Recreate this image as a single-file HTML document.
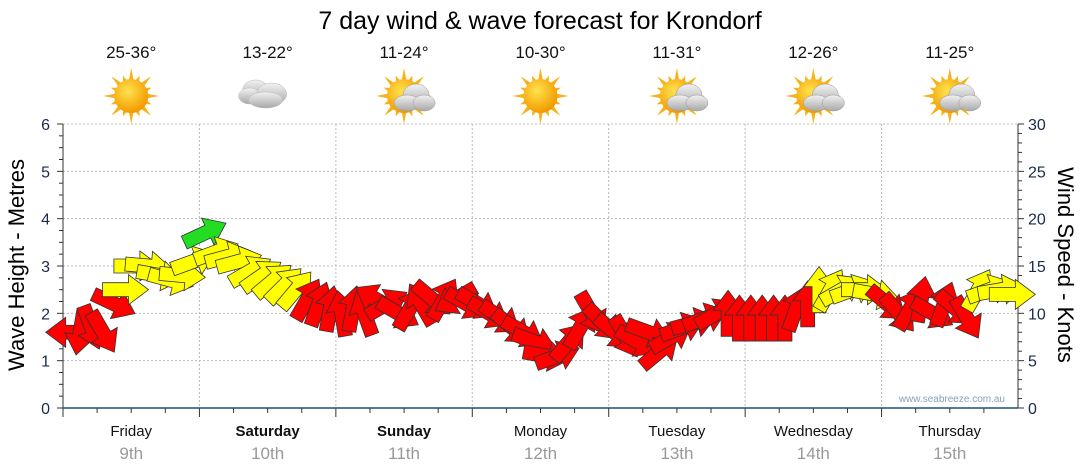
<!DOCTYPE html>
<html><head><meta charset="utf-8"><style>
body{margin:0;background:#fff;font-family:"Liberation Sans",sans-serif;}
svg{display:block}
</style></head><body>
<svg id="c" width="1080" height="475" viewBox="0 0 1080 475" xmlns="http://www.w3.org/2000/svg">
<defs>
<radialGradient id="sunG" cx="40%" cy="35%" r="65%"><stop offset="0" stop-color="#ffe34d"/><stop offset="1" stop-color="#f39a00"/></radialGradient>
<linearGradient id="cloudG" x1="0" y1="0" x2="0" y2="1"><stop offset="0" stop-color="#f2f2f2"/><stop offset="1" stop-color="#a8a8a8"/></linearGradient>
</defs>
<text x="540" y="29" text-anchor="middle" font-size="25" fill="#000">7 day wind &amp; wave forecast for Krondorf</text>
<g id="grid"></g><g id="axes"></g><g id="icons"></g><g id="arrows"></g>
<text x="1005" y="402" text-anchor="end" font-size="10" fill="#8aa0bb">www.seabreeze.com.au</text>
<text transform="translate(24,265) rotate(-90)" text-anchor="middle" font-size="22" fill="#000">Wave Height - Metres</text>
<text transform="translate(1058,265) rotate(90)" text-anchor="middle" font-size="22" fill="#000">Wind Speed - Knots</text>
</svg>
<script>
const days=["Friday","Saturday","Sunday","Monday","Tuesday","Wednesday","Thursday"];
const dates=["9th","10th","11th","12th","13th","14th","15th"];
const boldDays=[false,true,true,false,false,false,false];
const temps=["25-36°","13-22°","11-24°","10-30°","11-31°","12-26°","11-25°"];
const weather=["sun","cloud","suncloud","sun","suncloud","suncloud","suncloud"];
const waveTicks=[0,1,2,3,4,5,6];
const windTicks=[0,5,10,15,20,25,30];
const windSpeed=[8,8,8.5,8,11,12.5,15,15,14,13.5,14,15.5,
18.5,16.5,16,15.5,14.5,14,13.5,13,12.5,11.5,11,10.5,
10,10.5,10,11.5,11,10,10.5,11,11.5,11.5,11.5,11,
11,10,9.5,8.5,8,7,5.5,5.5,7,8.5,10,9,
8,7.5,7,8,6,7.5,8.5,9,9.5,10,10,9.5,
9.5,9.5,9.5,9.5,10.5,11,12.5,12.5,12.5,12.5,12.5,12,
11,10,10.5,11.5,10,11,10.5,9.5,12.5,12.5,12.5,12];
const windDir=[180,100,70,60,25,0,0,5,10,15,5,-20,
-25,-20,-15,-15,-30,-35,-40,-45,-50,-60,-70,-80,
-100,-80,-110,-150,-30,30,-60,-120,40,-60,150,30,
30,30,35,40,30,20,10,-20,-50,-60,60,45,
40,60,30,20,-40,-30,-20,-15,-20,-30,-90,-90,
-90,-90,-90,-90,-70,-90,-90,-60,-30,-20,0,10,
40,50,-60,-80,30,-70,40,60,-60,-20,-10,0];
const NS="http://www.w3.org/2000/svg";
const L=63,R=1018,T=124,B=408,DW=(R-L)/7;
const yWave=v=>B-(v/6)*(B-T), yWind=v=>B-(v/30)*(B-T);
const xIdx=i=>L+(i+0.5)*(R-L)/windSpeed.length;
function mk(tag,attrs,parent){const e=document.createElementNS(NS,tag);for(const k in attrs)e.setAttribute(k,attrs[k]);parent.appendChild(e);return e;}
const grid=document.getElementById('grid'),axes=document.getElementById('axes'),icons=document.getElementById('icons'),arrows=document.getElementById('arrows');
waveTicks.forEach(v=>{if(v>0){const g=mk('line',{x1:L,x2:R,y1:yWave(v),y2:yWave(v),stroke:'#bbb','stroke-dasharray':'2,2'},grid);}
 const t=mk('text',{x:50,y:yWave(v)+6,'text-anchor':'end','font-size':16,fill:'#1a2a4a'},axes);t.textContent=v;});
windTicks.forEach(v=>{const t=mk('text',{x:1028,y:yWind(v)+6,'font-size':16,fill:'#1a2a4a'},axes);t.textContent=v;});
for(let m=0;m<=24;m++){const y=yWave(m/4);mk('line',{x1:m%4?59:57,x2:L,y1:y,y2:y,stroke:'#333'},axes);}
for(let k=0;k<=30;k++){const y=yWind(k);mk('line',{x1:R,x2:k%5?R+4:R+6,y1:y,y2:y,stroke:'#333'},axes);}
mk('line',{x1:L,x2:L,y1:T,y2:B+8,stroke:'#333'},axes);
mk('line',{x1:R,x2:R,y1:T,y2:B,stroke:'#333'},axes);
for(let d=0;d<7;d++){
 const x0=L+d*DW;
 if(d>0){const g=mk('line',{x1:x0,x2:x0,y1:T,y2:B,stroke:'#bbb','stroke-dasharray':'2,2'},grid);}
 for(let q=0;q<4;q++){const x=x0+q*DW/4;mk('line',{x1:x,x2:x,y1:B,y2:B+(q?5:9),stroke:'#333'},axes);}
 const cx=x0+DW/2;
 const t=mk('text',{x:cx,y:436,'text-anchor':'middle','font-size':15,fill:'#111','font-weight':boldDays[d]?'bold':'normal'},axes);t.textContent=days[d];
 const t2=mk('text',{x:cx,y:459,'text-anchor':'middle','font-size':17,fill:'#999'},axes);t2.textContent=dates[d];
 const t3=mk('text',{x:cx,y:58,'text-anchor':'middle','font-size':17,fill:'#111'},icons);t3.textContent=temps[d];
 const g=mk('g',{transform:`translate(${cx},96)`},icons);
 
 
 const w=weather[d];
 if(w!=='cloud'){for(let a=0;a<16;a++){const ang=a*Math.PI/8,l=a%2?22:28;const p=[[Math.cos(ang)*l,Math.sin(ang)*l],[Math.cos(ang+0.17)*15,Math.sin(ang+0.17)*15],[Math.cos(ang-0.17)*15,Math.sin(ang-0.17)*15]];mk('polygon',{points:p.map(q=>q.join(',')).join(' '),fill:'#f5b21a'},g);}
  mk('circle',{cx:0,cy:0,r:17,fill:'url(#sunG)'},g);}
 if(w==='cloud'){[[-8,-4,13,10],[-14,2,11,8],[8,0,15,11],[2,6,17,8]].forEach(e=>mk('ellipse',{cx:e[0]-4,cy:e[1]-2,rx:e[2],ry:e[3],fill:'url(#cloudG)',stroke:'#bbb','stroke-width':0.5},g));}
 if(w==='suncloud'){[[12,-1,13,11],[3,7,13,8],[20,7,11,8]].forEach(e=>mk('ellipse',{cx:e[0],cy:e[1],rx:e[2],ry:e[3],fill:'url(#cloudG)',stroke:'#999','stroke-width':0.5},g));}
}
mk('line',{x1:L,x2:R,y1:B,y2:B,stroke:'#1f4e79','stroke-width':1.5},axes);
windSpeed.forEach((s,i)=>{
 const col=s>=17?'#22dd22':(s>=12?'#ffff00':'#ff0000');
 const a=mk('polygon',{points:'-23,-7 3,-7 3,-15 23,0 3,15 3,7 -23,7',fill:col,stroke:'#333','stroke-width':0.8,transform:`translate(${xIdx(i)},${yWind(s)}) rotate(${windDir[i]})`},arrows);
 
 
});
</script>
</body></html>
